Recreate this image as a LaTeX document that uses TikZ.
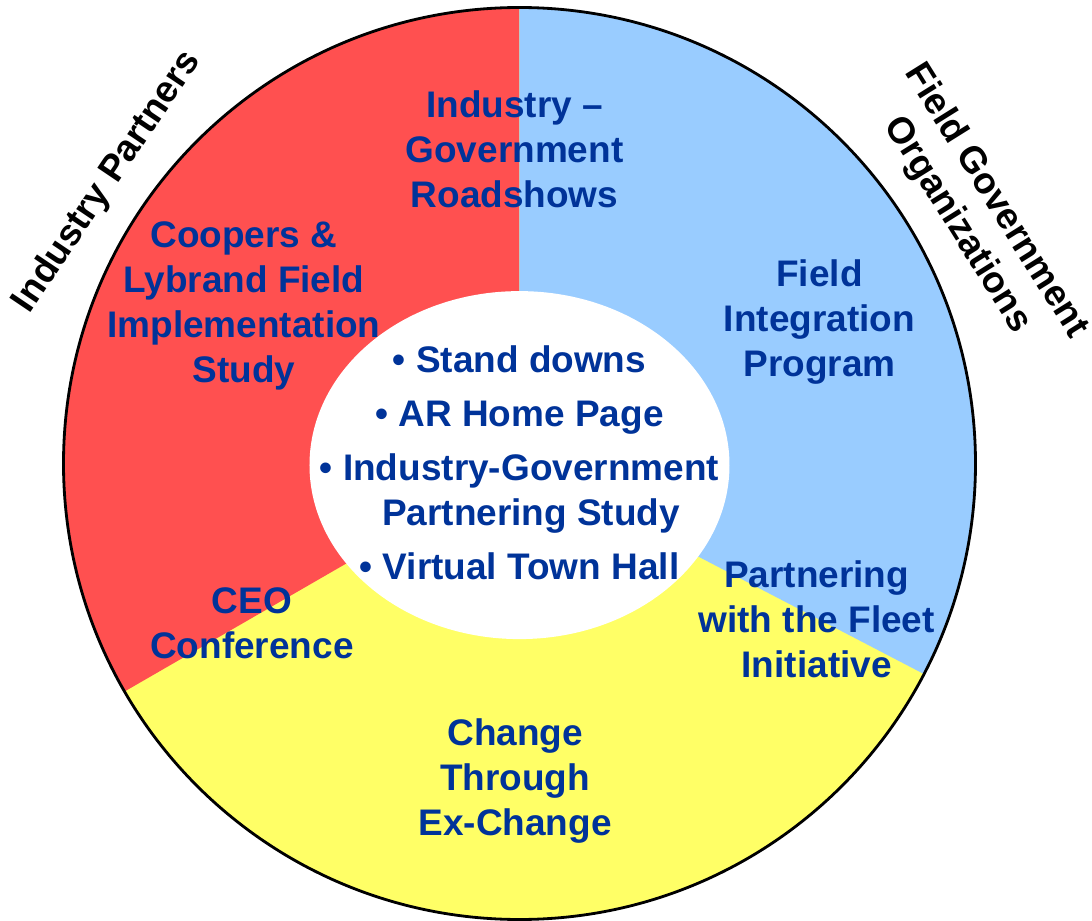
\documentclass[tikz,border=0pt]{standalone}
\usepackage{fontspec}
\setmainfont{Liberation Sans}
\definecolor{segred}{RGB}{255,80,80}
\definecolor{segblue}{RGB}{153,204,255}
\definecolor{segyellow}{RGB}{255,255,102}
\definecolor{txtblue}{RGB}{0,51,153}
\begin{document}
\begin{tikzpicture}[topic/.style={align=center, text=txtblue, inner sep=0pt, font=\fontsize{26.3}{32}\selectfont\bfseries},
	group/.style={align=center, inner sep=0pt, font=\fontsize{26.3}{32}\selectfont\bfseries}]
	\useasboundingbox (-12.9875,-11.4125) rectangle (14.3125,11.5875);
	\fill[segyellow] (0,0) circle (11.4);
	\fill[segred] (0,0) -- (90:11.4) arc (90:210:11.4) -- cycle;
	\fill[segblue] (0,0) -- (-27.5:11.4) arc (-27.5:90:11.4) -- cycle;
	\fill[white] (0,-0.04) ellipse (5.25 and 4.35);
	\draw[line width=2pt] (0,0) circle (11.4);
	\node[topic] (roadshows) at (-0.125,7.86) {Industry --\\Government\\Roadshows};
	\node[topic] (coopers) at (-6.89,3.94) {Coopers \&\\Lybrand Field\\Implementation\\Study};
	\node[topic] (fip) at (7.5,3.53) {Field\\Integration\\Program};
	\node[topic] (ceo) at (-6.69,-3.99) {CEO\\Conference};
	\node[topic] (fleet) at (7.43,-3.89) {Partnering\\with the Fleet\\Initiative};
	\node[topic] (exchange) at (-0.11,-7.93) {Change\\Through\\Ex-Change};
	\node[topic] (hub) at (0,0.01) {• Stand downs\\[0.225cm] • AR Home Page\\[0.225cm] • Industry-Government\\ \phantom{• }Partnering Study\\[0.225cm] • Virtual Town Hall};
	\node[group, rotate=56] (partners) at (-10.3,7.04) {Industry Partners};
	\node[group, rotate=-58] (fieldgov) at (11.42,6.26) {Field Government\\Organizations};
\end{tikzpicture}
\end{document}
